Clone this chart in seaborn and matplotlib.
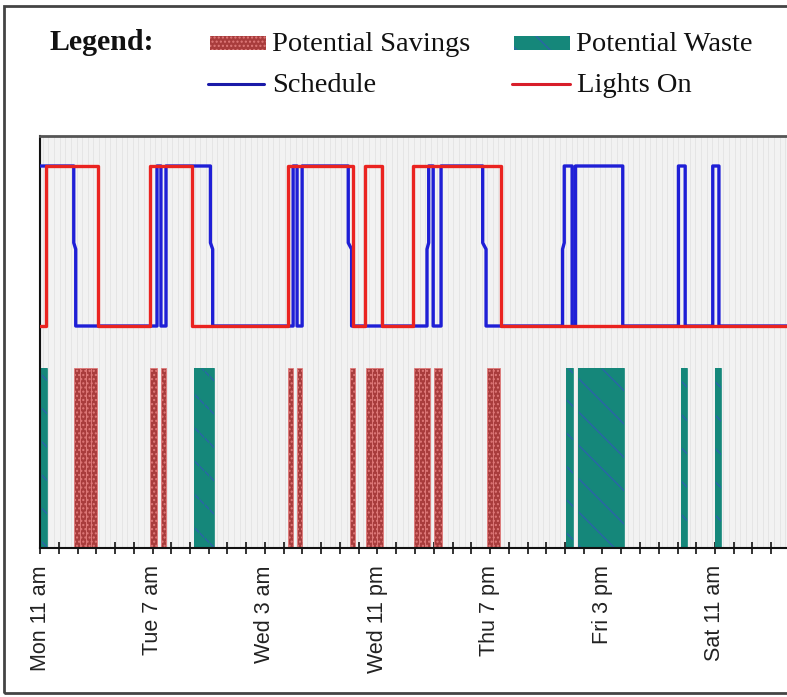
import numpy as np
import pandas as pd
import matplotlib
matplotlib.use("Agg")
import matplotlib.pyplot as plt
from matplotlib.patches import Rectangle
from matplotlib.lines import Line2D
from matplotlib.ticker import MultipleLocator, FixedLocator
import seaborn as sns

# ---------------- data (hours from Mon 11 am) ----------------
tick_hours = [0, 20, 40, 60, 80, 100, 120]
tick_labels = ["Mon 11 am", "Tue 7 am", "Wed 3 am", "Wed 11 pm", "Thu 7 pm", "Fri 3 pm", "Sat 11 am"]

schedule_t = [0, 6.0, 6.0, 6.35, 6.35, 20.8, 20.8, 21.5, 21.5, 22.4, 22.4,
              30.3, 30.3, 30.7, 30.7, 45.0, 45.0, 45.7, 45.7, 46.6, 46.6,
              54.8, 54.8, 55.4, 55.4, 68.8, 68.8, 69.1, 69.1, 69.9, 69.9,
              71.3, 71.3, 78.7, 78.7, 79.3, 79.3, 92.9, 92.9, 93.2, 93.2,
              94.6, 94.6, 95.2, 95.2, 103.6, 103.6, 113.5, 113.5, 114.7, 114.7,
              119.6, 119.6, 120.7, 120.7, 133.0]
schedule_v = [1, 1, 0.52, 0.48, 0, 0, 1, 1, 0, 0, 1,
              1, 0.52, 0.48, 0, 0, 1, 1, 0, 0, 1,
              1, 0.52, 0.48, 0, 0, 0.48, 0.52, 1, 1, 0,
              0, 1, 1, 0.52, 0.48, 0, 0, 0.48, 0.52, 1,
              1, 0, 0, 1, 1, 0, 0, 1, 1, 0,
              0, 1, 1, 0, 0]

lights_t = [0, 1.1, 1.1, 10.3, 10.3, 19.6, 19.6, 27.0, 27.0, 44.1, 44.1,
            55.6, 55.6, 57.8, 57.8, 60.8, 60.8, 66.3, 66.3, 82.0, 82.0, 133.0]
lights_v = [0, 0, 1, 1, 0, 0, 1, 1, 0, 0, 1,
            1, 0, 0, 1, 1, 0, 0, 1, 1, 0, 0]

savings_start = [6.1, 7.1, 8.1, 9.1, 19.6, 21.5, 44.0, 45.7, 55.1,
                 58.0, 59.0, 60.0, 66.5, 67.4, 68.4, 70.0, 79.5, 80.6]
savings_end = [7.1, 8.1, 9.1, 10.1, 20.8, 22.4, 45.0, 46.6, 56.0,
               59.0, 60.0, 61.0, 67.4, 68.4, 69.3, 71.5, 80.6, 81.8]

waste_start = [0.1, 27.4, 28.3, 29.2, 30.1, 93.5, 95.6, 114.0, 120.0]
waste_end = [1.2, 28.3, 29.2, 30.1, 30.9, 94.7, 103.8, 115.0, 121.1]

legend_labels = ["Potential Savings", "Potential Waste", "Schedule", "Lights On"]

# ---------------- styling ----------------
sns.set_style("white")
plt.rcParams["font.family"] = ["Liberation Sans", "DejaVu Sans"]
plt.rcParams["hatch.linewidth"] = 1.0

W, H = 787, 697
fig = plt.figure(figsize=(W / 100, H / 100), dpi=100)

def fx(px):
    return px / W

def fy(py):
    return 1 - py / H

ax = fig.add_axes([fx(40), fy(548), fx(787) - fx(40), fy(136) - fy(548)])
ax.set_facecolor("#f2f2f2")
ax.set_xlim(0, 132.8)
ax.set_ylim(0, 2.289)

# faint vertical background stripes
for h in np.arange(0.5, 133, 1.0):
    ax.axvline(h, color="#e3e3e3", lw=0.6, zorder=0)

sav_c = "#a83c3c"
waste_c = "#15877a"
s0 = np.array(savings_start)
s1 = np.array(savings_end)
ax.bar(s0, 1.0, width=s1 - s0, align="edge", color=sav_c, edgecolor="#e07a7a",
       linewidth=0.6, hatch="....", zorder=2)
w0 = np.array(waste_start)
w1 = np.array(waste_end)
ax.bar(w0, 1.0, width=w1 - w0, align="edge", color=waste_c, edgecolor="#2a64a8",
       linewidth=0.0, hatch="\\", zorder=2)
ax.bar(w0, 1.0, width=w1 - w0, align="edge", color="none", edgecolor=waste_c,
       linewidth=0.6, zorder=2)

ax2 = ax.twinx()
ax2.set_ylim(-1.3875, 1.1875)
sched_df = pd.DataFrame({"t": schedule_t, "v": schedule_v})
light_df = pd.DataFrame({"t": lights_t, "v": lights_v})
blue = "#1f1fd6"
red = "#ea2320"
sns.lineplot(data=sched_df, x="t", y="v", sort=False, estimator=None, ax=ax2,
             color=blue, lw=2.4)
ax2.lines[-1].set_zorder(3)
sns.lineplot(data=light_df, x="t", y="v", sort=False, estimator=None, ax=ax2,
             color=red, lw=2.4)
ax2.lines[-1].set_zorder(5)
ax2.set_yticks([])
ax2.set_ylabel("")
ax2.set_xlabel("")
for sp in ax2.spines.values():
    sp.set_visible(False)
ax2.tick_params(right=False, labelright=False)

# spines / ticks
ax.spines["right"].set_visible(False)
ax.spines["top"].set_color("#555555")
ax.spines["top"].set_linewidth(2.0)
ax.spines["left"].set_color("#111111")
ax.spines["left"].set_linewidth(1.5)
ax.spines["bottom"].set_color("#111111")
ax.spines["bottom"].set_linewidth(1.5)
ax.set_yticks([])
ax.xaxis.set_major_locator(FixedLocator(tick_hours))
ax.set_xticklabels(tick_labels, rotation=90, fontsize=15.5, color="#222222",
                   family=["Liberation Sans", "DejaVu Sans"])
ax.xaxis.set_minor_locator(MultipleLocator(20 / 6))
ax.tick_params(axis="x", which="both", direction="inout", length=9, width=1.2,
               color="#111111", bottom=True)
ax.tick_params(axis="x", which="major", pad=8)
ax.set_xlabel("")

# outer frame
fig.add_artist(Rectangle((fx(4), fy(693)), 1.2, fy(6) - fy(693), transform=fig.transFigure,
                         fill=False, edgecolor="#444444", lw=2.0, clip_on=False))

# legend
serif = ["Liberation Serif", "DejaVu Serif"]
fs_leg = 20.5
fig.text(fx(50), fy(50), "Legend:", fontsize=21.5, fontweight="bold", family=serif,
         va="baseline", ha="left", color="#111111")
fig.add_artist(Rectangle((fx(210), fy(50)), fx(266) - fx(210), fy(36) - fy(50),
                         transform=fig.transFigure, facecolor=sav_c, edgecolor="#e07a7a",
                         hatch="....", lw=0))
fig.add_artist(Rectangle((fx(514), fy(50)), fx(570) - fx(514), fy(36) - fy(50),
                         transform=fig.transFigure, facecolor=waste_c, edgecolor="#2a64a8",
                         hatch="\\", lw=0))
fig.add_artist(Line2D([fx(208), fx(264)], [fy(84), fy(84)], transform=fig.transFigure,
                      color="#1a1aa8", lw=2.2))
fig.add_artist(Line2D([fx(512), fx(570)], [fy(84), fy(84)], transform=fig.transFigure,
                      color="#d81e2a", lw=2.2))
fig.text(fx(272), fy(51), legend_labels[0], fontsize=fs_leg, family=serif, va="baseline", color="#111111")
fig.text(fx(576), fy(51), legend_labels[1], fontsize=fs_leg, family=serif, va="baseline", color="#111111")
fig.text(fx(272), fy(92), legend_labels[2], fontsize=fs_leg, family=serif, va="baseline", color="#111111")
fig.text(fx(577), fy(92), legend_labels[3], fontsize=fs_leg, family=serif, va="baseline", color="#111111")

fig.savefig("out.png", dpi=100)
